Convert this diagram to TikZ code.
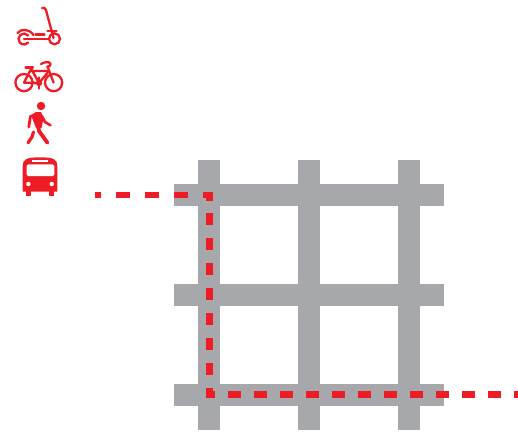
\documentclass[tikz,border=0pt]{standalone}
\usepackage{xcolor}
\usepackage{tikz}
\definecolor{roadgrey}{HTML}{A7A8AB}
\definecolor{routered}{HTML}{EE1C25}
\tikzset{
  road/.style={draw=roadgrey, line width=22pt},
  route/.style={draw=routered, line width=6.8pt},
  icon/.style={draw=routered, line width=2.3pt, line cap=round, line join=round},
  iconfill/.style={fill=routered},
}
\begin{document}
\begin{tikzpicture}[x=1pt,y=-1pt]
        \useasboundingbox (0,0) rectangle (518,432);
        % street grid
        \draw[road] (209,160) -- (209,430);
        \draw[road] (309,160) -- (309,430);
        \draw[road] (409,160) -- (409,430);
        \draw[road] (174,195) -- (444,195);
        \draw[road] (174,295) -- (444,295);
        \draw[road] (174,395) -- (444,395);
        % route
        \coordinate (busstop) at (95,195);
        \coordinate (topturn) at (209.3,195);
        \coordinate (topend) at (209.3,201);
        \coordinate (sidestart) at (209.3,213.3);
        \coordinate (lowturn) at (209.3,394.7);
        \coordinate (lowend) at (214.8,394.7);
        \coordinate (lowstart) at (228.3,394.7);
        \coordinate (exit) at (518,394.7);
        \draw[route, dash pattern=on 14.5pt off 14.5pt, dash phase=8.5pt] (busstop) -- (topturn) -- (topend);
        \draw[route, dash pattern=on 12pt off 13pt] (sidestart) -- (lowturn) -- (lowend);
        \draw[route, dash pattern=on 13pt off 13pt] (lowstart) -- (exit);
        % scooter
        \draw[icon] (42,8) .. controls (44,7.5) and (45.5,8) .. (46,10) -- (53.5,38);
        \draw[icon] (54.5,38.8) circle (5.5);
        \draw[icon] (47.5,30.8) -- (56.5,30.8);
        \draw[icon] (28.2,35.5) arc (-40:-320:5.5);
        \draw[icon] (17.5,33) .. controls (21,28.5) and (29,28.5) .. (33.5,35);
        \draw[icon] (24,39.2) -- (48,39.2);
        \draw[icon] (35.5,34.6) -- (44.5,34.6);
        % bicycle
        \draw[icon] (24,82.6) circle (8.6);
        \draw[icon] (53.6,82.6) circle (8.6);
        \draw[icon] (25.5,67.4) -- (33,67.4);
        \draw[icon] (30.5,67.5) -- (39,83) -- (49,71) -- (30.5,71);
        \draw[icon] (24,82.6) -- (30.5,70) (24,82.6) -- (39,83);
        \draw[icon] (41,64) .. controls (44,62) and (50,61) .. (50.5,64) .. controls (51,66) and (49,66.5) .. (47.5,66.5) -- (53.6,82.6);
        \fill[iconfill] (39,83) circle (3.2);
        \draw[icon] (39,77.5) -- (39,88.5);
        % pedestrian
        \fill[iconfill] (41,106) circle (4.2);
        \fill[iconfill] (31,115) -- (36,112) -- (41,112) -- (43.5,118) -- (41.5,128) -- (36,128) -- cycle;
        \draw[icon, line width=2.8pt] (30.5,116) -- (28.8,127);
        \draw[icon, line width=2.6pt] (42,116) -- (45,122) -- (50.5,125.3);
        \draw[icon, line width=3.8pt] (38,125) -- (39,131) -- (47.5,142.8);
        \draw[icon, line width=3.2pt] (33.5,132) -- (32,137) -- (28,142.8);
        % bus
        \fill[iconfill] (22.7,191.7) -- (22.7,166) .. controls (22.7,159.5) and (26,157.3) .. (40,157.3)
          .. controls (54,157.3) and (57.3,159.5) .. (57.3,166) -- (57.3,191.7) -- cycle;
        \fill[iconfill] (26,191) rectangle (31,195.7);
        \fill[iconfill] (49.2,191) rectangle (54.3,195.7);
        \fill[white, rounded corners=1.5pt] (26.7,176) -- (26.7,164.3) -- (54.3,164.3) -- (54.3,176) -- cycle;
        \fill[white] (32.3,160.3) rectangle (47.7,162.3);
        \fill[white] (28.4,184) circle (2.2);
        \fill[white] (51.7,184) circle (2.2);
      \end{tikzpicture}
\end{document}
